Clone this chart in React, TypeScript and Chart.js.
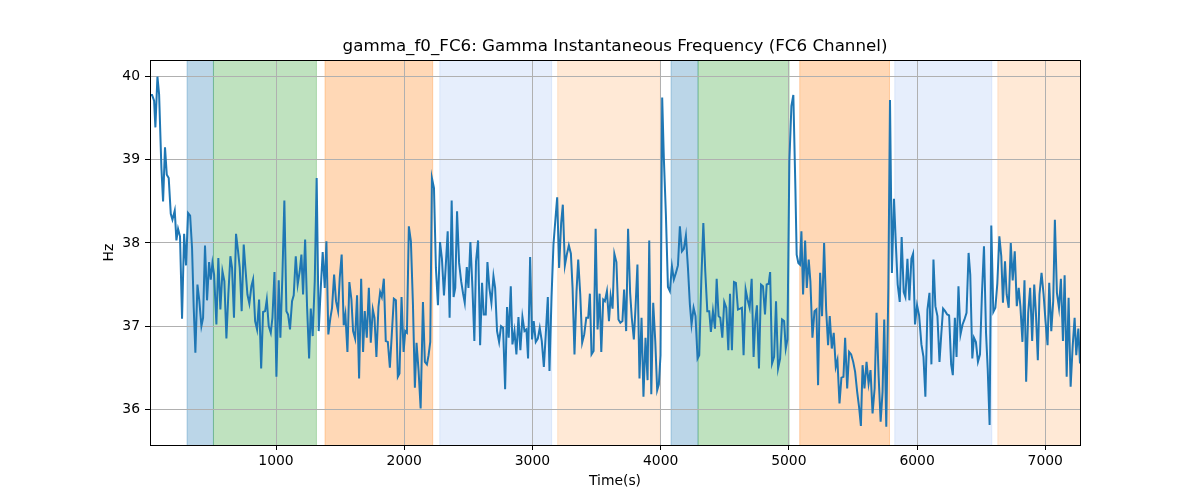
import { useEffect, useRef } from "react"
import { Chart, registerables } from "chart.js"

Chart.register(...registerables)

// time stamps (s) and instantaneous gamma frequency (Hz)
const timeSec = [
  23, 33, 49, 59, 75, 88, 106, 119, 134, 148,
  163, 179, 192, 210, 223, 236, 251, 267, 283, 298,
  314, 330, 345, 358, 371, 387, 402, 418, 431, 446,
  462, 478, 491, 504, 517, 535, 550, 566, 582, 597,
  613, 628, 644, 657, 672, 688, 704, 717, 732, 748,
  761, 777, 792, 808, 821, 837, 852, 868, 884, 899,
  915, 928, 943, 959, 972, 988, 1003, 1021, 1034, 1050,
  1065, 1081, 1094, 1109, 1125, 1138, 1154, 1169,
  1185, 1198, 1211, 1227, 1242, 1258, 1271, 1286, 1302, 1317,
  1333, 1349, 1364, 1380, 1393, 1408, 1424, 1437, 1453, 1468,
  1484, 1497, 1512, 1528, 1541, 1557, 1572, 1588, 1601, 1617,
  1632, 1648, 1664, 1679, 1692, 1708, 1724, 1739, 1755, 1768,
  1783, 1799, 1812, 1825, 1841, 1856, 1872, 1888, 1903, 1919,
  1935, 1950, 1963, 1979, 1995, 2008, 2021, 2036, 2052, 2068,
  2083, 2096, 2112, 2128, 2146, 2161, 2177, 2190, 2203, 2216,
  2232, 2247, 2263, 2279, 2294, 2310, 2323, 2339, 2354, 2370,
  2385, 2398,
  2412, 2428, 2444, 2459, 2472, 2488, 2501, 2516, 2532, 2547,
  2560, 2576, 2592, 2607, 2620, 2636, 2649, 2664, 2680, 2696,
  2709, 2724, 2740, 2755, 2771, 2787, 2802, 2815, 2831, 2844,
  2860, 2875, 2891, 2906, 2922, 2938, 2953, 2966, 2982, 2997,
  3010, 3026, 3042, 3057, 3073, 3089, 3104, 3120, 3133, 3149,
  3164, 3180, 3193, 3208, 3224, 3237, 3253, 3268, 3284, 3300,
  3313, 3328, 3344, 3357, 3373, 3388, 3404, 3420, 3435, 3448,
  3461, 3477, 3493, 3508, 3524, 3537, 3552, 3565, 3581, 3597,
  3610, 3625,
  3639, 3655, 3671, 3686, 3702, 3715, 3731, 3746, 3762, 3775,
  3791, 3804, 3819, 3835, 3851, 3866, 3882, 3898, 3911, 3927,
  3942, 3958, 3973, 3986, 3999, 4012, 4025, 4041, 4057, 4072,
  4088, 4103, 4119, 4135, 4150, 4166, 4181, 4197, 4213, 4228,
  4241, 4257, 4272, 4288, 4301, 4317, 4333, 4348, 4364, 4379,
  4392, 4408, 4424, 4437, 4452, 4465, 4481, 4496, 4512, 4528,
  4541, 4556, 4572, 4587, 4603, 4619, 4634, 4647, 4663, 4678,
  4694, 4710, 4725, 4738, 4751, 4767, 4783, 4798, 4814, 4827,
  4843,
  4854, 4869, 4885, 4900, 4916, 4932, 4947, 4963, 4976, 4989,
  5004, 5020, 5035, 5051, 5061, 5074, 5087, 5098, 5111, 5127,
  5140, 5155, 5168, 5184, 5200, 5215, 5228, 5244, 5259, 5275,
  5291, 5306, 5319, 5335, 5350, 5366, 5379, 5395, 5410, 5426,
  5439, 5455, 5470, 5486, 5502, 5517, 5533, 5549, 5562, 5575,
  5590, 5606, 5622, 5637, 5653, 5669, 5684, 5700, 5716, 5731,
  5744, 5760, 5776, 5789, 5804, 5820, 5836, 5849, 5865, 5880,
  5896, 5909, 5925, 5940, 5956, 5969, 5984, 6000, 6016,
  6034, 6050, 6065, 6081, 6097, 6112, 6128, 6143, 6159, 6175,
  6188, 6203, 6219, 6235, 6250, 6266, 6279, 6295, 6308, 6323,
  6339, 6355, 6370, 6386, 6402, 6415, 6431, 6444, 6459, 6475,
  6491, 6506, 6522, 6538, 6551, 6566, 6579, 6595, 6611, 6626,
  6642, 6657, 6670, 6686, 6699, 6715, 6731, 6746, 6762, 6778,
  6793, 6806, 6822, 6838, 6851, 6867, 6882, 6898, 6914, 6927,
  6942, 6955, 6971, 6987, 7002, 7018, 7031, 7047, 7062, 7075,
  7091, 7107, 7122, 7138, 7151, 7167, 7182, 7198, 7214, 7229,
  7242, 7258, 7271,
]

const freqHz = [
  39.78, 39.78, 39.71, 39.39, 40.0, 39.79, 38.9, 38.5, 39.15, 38.82,
  38.78, 38.35, 38.28, 38.39, 38.03, 38.17, 38.08, 37.09, 38.11, 37.73,
  38.36, 38.33, 37.94, 37.22, 36.68, 37.5, 37.3, 37.0, 37.1, 37.97,
  37.31, 37.77, 37.56, 37.76, 37.62, 37.02, 37.82, 37.2, 37.66, 37.54,
  36.85, 37.38, 37.84, 37.7, 37.1, 38.11, 37.9, 37.7, 37.18, 37.98,
  37.7, 37.38, 37.27, 37.48, 37.56, 37.06, 36.96, 37.32, 36.49, 37.17,
  37.18, 37.32, 37.0, 36.92, 37.1, 37.65, 36.39, 37.55, 36.86, 37.62,
  38.51, 37.18, 37.14, 36.96, 37.3, 37.37, 37.84, 37.5,
  37.66, 37.86, 37.38, 38.04, 37.24, 36.61, 37.21, 36.88, 37.54, 38.78,
  36.94, 37.46, 37.89, 37.46, 38.02, 36.9, 37.1, 37.22, 37.62, 37.3,
  37.18, 37.58, 37.86, 37.01, 37.14, 36.69, 37.53, 37.32, 36.94, 36.85,
  37.37, 36.37, 37.57, 36.69, 37.18, 36.86, 37.46, 36.8, 37.2, 37.1,
  36.63, 37.23, 37.41, 37.35, 37.57, 36.82, 36.81, 36.5, 36.9, 37.33,
  37.31, 36.39, 36.43, 37.35, 36.69, 36.94, 36.92, 38.2, 38.02, 37.26,
  36.26, 36.8, 36.46, 36.01, 37.29, 36.57, 36.54, 36.65, 36.81, 38.78,
  38.66, 37.7, 37.25, 38.01, 37.81, 37.37, 37.7, 38.14, 37.1, 38.51,
  37.35, 37.46,
  38.38, 37.76, 37.54, 37.39, 37.28, 37.71, 37.46, 38.01, 37.46, 36.82,
  37.78, 38.03, 36.77, 37.52, 37.14, 37.14, 37.77, 37.46, 37.28, 37.6,
  37.46, 36.94, 36.81, 37.0, 36.98, 36.24, 37.23, 36.86, 37.48, 36.78,
  36.94, 36.66, 37.11, 36.71, 37.11, 36.94, 36.96, 36.61, 37.83, 36.84,
  37.06, 36.81, 36.85, 36.98, 36.82, 36.51, 36.9, 37.35, 36.46, 37.35,
  37.98, 38.3, 38.55, 37.7, 38.24, 38.46, 37.73, 37.86, 37.97, 37.87,
  37.46, 36.66, 37.42, 37.8, 37.38, 36.8, 36.9, 37.1, 37.1, 37.39,
  36.66, 36.7, 38.17, 36.96, 37.39, 36.69, 37.32, 37.3, 37.42, 37.06,
  37.36, 37.21,
  37.87, 37.77, 37.08, 37.04, 37.06, 37.44, 36.94, 38.17, 37.4, 37.1,
  36.84, 37.22, 37.74, 36.37, 37.1, 36.15, 36.86, 36.35, 38.03, 36.18,
  37.28, 36.82, 36.23, 36.3, 36.65, 39.75, 39.02, 38.34, 37.47, 37.42,
  37.72, 37.56, 37.64, 37.73, 38.2, 37.9, 37.93, 38.09, 37.7, 37.26,
  37.02, 37.22, 37.12, 36.61, 36.65, 37.54, 38.24, 37.66, 37.18, 37.18,
  36.93, 37.18, 36.97, 37.57, 37.12, 37.1, 36.86, 37.29, 37.22, 36.71,
  37.39, 36.71, 37.53, 37.52, 37.2, 37.21, 37.22, 36.65, 37.44, 37.32,
  37.22, 37.57, 36.63, 37.06, 37.25, 36.49, 37.5, 37.48, 37.14, 37.5,
  37.51,
  37.65, 36.55, 36.63, 37.3, 36.49, 36.61, 37.08, 37.06, 36.73, 36.84,
  38.98, 39.65, 39.78, 38.66, 37.86, 37.76, 37.74, 38.14, 37.38, 38.03,
  37.46, 37.8, 37.54, 36.86, 37.18, 37.2, 36.29, 37.64, 37.12, 38.0,
  37.2, 36.77, 37.12, 36.73, 36.92, 36.51, 36.59, 36.07, 36.38, 36.39,
  36.86, 36.25, 36.69, 36.66, 36.57, 36.45, 36.21, 36.01, 35.8, 36.53,
  36.25, 36.57, 36.31, 36.47, 35.95, 36.25, 37.16, 36.41, 35.85, 36.21,
  37.08, 35.79, 37.46, 39.72, 37.64, 38.53, 37.94, 37.5, 37.29, 38.07,
  37.41, 37.35, 37.81, 37.31, 37.81, 37.87, 37.02, 37.25, 37.13,
  36.78, 36.63, 36.15, 37.2, 37.4, 36.54, 37.8, 37.24, 37.12, 36.57,
  36.88, 37.21, 37.18, 37.14, 37.13, 36.54, 36.41, 37.1, 36.63, 37.48,
  36.9, 37.02, 37.08, 37.16, 37.88, 37.62, 36.61, 36.86, 36.81, 36.57,
  36.66, 37.38, 37.96, 36.92, 36.49, 35.81, 38.21, 37.17, 37.22, 37.51,
  38.08, 37.84, 37.28, 37.78, 37.38, 37.22, 38.0, 37.55, 37.9, 37.24,
  37.46, 37.24, 36.81, 37.55, 36.33, 37.16, 37.46, 36.82, 37.5, 37.16,
  36.59, 37.38, 37.64, 37.38, 37.06, 36.77, 37.52, 36.94, 37.3, 38.28,
  37.4, 37.22, 37.57, 36.82, 37.61, 36.39, 37.34, 36.27, 36.76, 37.1,
  36.65, 36.97, 36.55,
]

const xTicks = [1000, 2000, 3000, 4000, 5000, 6000, 7000]
const yTicks = [36, 37, 38, 39, 40]

// shaded segments along the time axis
const bandStarts = [306, 512, 1382, 2277, 3197, 4081, 4292, 5085, 5826, 6630]
const bandEnds = [512, 1315, 2222, 3150, 3998, 4292, 5002, 5785, 6583, 7300]
const bandColors = [
  "rgba(31, 119, 180, 0.3)",
  "rgba(44, 160, 44, 0.3)",
  "rgba(255, 127, 14, 0.3)",
  "rgba(100, 149, 237, 0.16)",
  "rgba(255, 127, 14, 0.17)",
  "rgba(31, 119, 180, 0.3)",
  "rgba(44, 160, 44, 0.3)",
  "rgba(255, 127, 14, 0.3)",
  "rgba(100, 149, 237, 0.16)",
  "rgba(255, 127, 14, 0.17)",
]

const FONT = "DejaVu Sans"

const bandsPlugin = {
  id: "bands",
  beforeDraw(chart: any) {
    const { ctx, chartArea, scales } = chart
    ctx.save()
    ctx.beginPath()
    ctx.rect(chartArea.left, chartArea.top, chartArea.right - chartArea.left, chartArea.bottom - chartArea.top)
    ctx.clip()
    bandStarts.forEach((start, i) => {
      const x0 = scales.x.getPixelForValue(start)
      const x1 = scales.x.getPixelForValue(bandEnds[i])
      ctx.fillStyle = bandColors[i]
      ctx.fillRect(x0, chartArea.top, x1 - x0, chartArea.bottom - chartArea.top)
      ctx.strokeStyle = bandColors[i]
      ctx.lineWidth = 1
      ctx.strokeRect(x0, chartArea.top - 2, x1 - x0, chartArea.bottom - chartArea.top + 4)
    })
    ctx.restore()
  },
}

const framePlugin = {
  id: "frame",
  afterDraw(chart: any) {
    const { ctx, chartArea } = chart
    ctx.save()
    ctx.strokeStyle = "#000"
    ctx.lineWidth = 1
    ctx.strokeRect(
      Math.round(chartArea.left) + 0.5,
      Math.round(chartArea.top) + 0.5,
      Math.round(chartArea.right - chartArea.left),
      Math.round(chartArea.bottom - chartArea.top)
    )
    ctx.restore()
  },
}

export default function App() {
  const chartRef = useRef<HTMLCanvasElement>(null)
  const chartInstance = useRef<Chart | null>(null)

  useEffect(() => {
    document.body.style.margin = "0"
    if (!chartRef.current) return
    const ctx = chartRef.current.getContext("2d")
    if (!ctx) return

    if (chartInstance.current) {
      chartInstance.current.destroy()
    }

    const tickFont = { family: FONT, size: 13.9 }

    chartInstance.current = new Chart(ctx, {
      type: "line",
      data: {
        datasets: [
          {
            label: "gamma_f0_FC6",
            data: timeSec.map((t, i) => ({ x: t, y: freqHz[i] })),
            borderColor: "#1f77b4",
            borderWidth: 2,
            pointRadius: 0,
            tension: 0,
            fill: false,
          },
        ],
      },
      options: {
        responsive: false,
        animation: false,
        layout: { padding: { left: 95, right: 65, top: 0, bottom: 0 } },
        plugins: {
          legend: { display: false },
          tooltip: { enabled: false },
          title: {
            display: true,
            text: "gamma_f0_FC6: Gamma Instantaneous Frequency (FC6 Channel)",
            color: "#000",
            font: { family: FONT, size: 16.7, weight: "normal" },
            padding: { top: 37, bottom: 3 },
          },
        },
        scales: {
          x: {
            type: "linear",
            min: 17,
            max: 7271,
            afterBuildTicks: (scale: any) => {
              scale.ticks = xTicks.map((v) => ({ value: v }))
            },
            afterFit: (scale: any) => {
              scale.height = 55
            },
            ticks: {
              color: "#000",
              font: tickFont,
              padding: 3,
              maxRotation: 0,
              autoSkip: false,
              callback: (v: any) => String(v),
            },
            grid: { color: "#b0b0b0", lineWidth: 1, tickColor: "#000", tickLength: 5 },
            border: { display: false },
            title: {
              display: true,
              text: "Time(s)",
              color: "#000",
              font: tickFont,
              padding: { top: 0, bottom: 10.7 },
            },
          },
          y: {
            min: 35.57,
            max: 40.2,
            afterBuildTicks: (scale: any) => {
              scale.ticks = yTicks.map((v) => ({ value: v }))
            },
            afterFit: (scale: any) => {
              scale.width = 55
            },
            ticks: {
              color: "#000",
              font: tickFont,
              padding: 5,
              autoSkip: false,
              callback: (v: any) => String(v),
            },
            grid: { color: "#b0b0b0", lineWidth: 1, tickColor: "#000", tickLength: 5 },
            border: { display: false },
            title: {
              display: true,
              text: "Hz",
              color: "#000",
              font: tickFont,
              padding: { top: 5.7, bottom: 0 },
            },
          },
          // empty right-hand box so the title centres over the plot like matplotlib
          yPad: {
            type: "linear",
            position: "right",
            display: true,
            ticks: { display: false },
            grid: { display: false },
            border: { display: false },
            afterFit: (scale: any) => {
              scale.width = 55
            },
          },
        },
      },
      plugins: [bandsPlugin, framePlugin],
    })

    return () => {
      if (chartInstance.current) {
        chartInstance.current.destroy()
        chartInstance.current = null
      }
    }
  }, [])

  return (
    <div style={{ width: 1200, height: 500 }}>
      <canvas ref={chartRef} width={1200} height={500} />
    </div>
  )
}
